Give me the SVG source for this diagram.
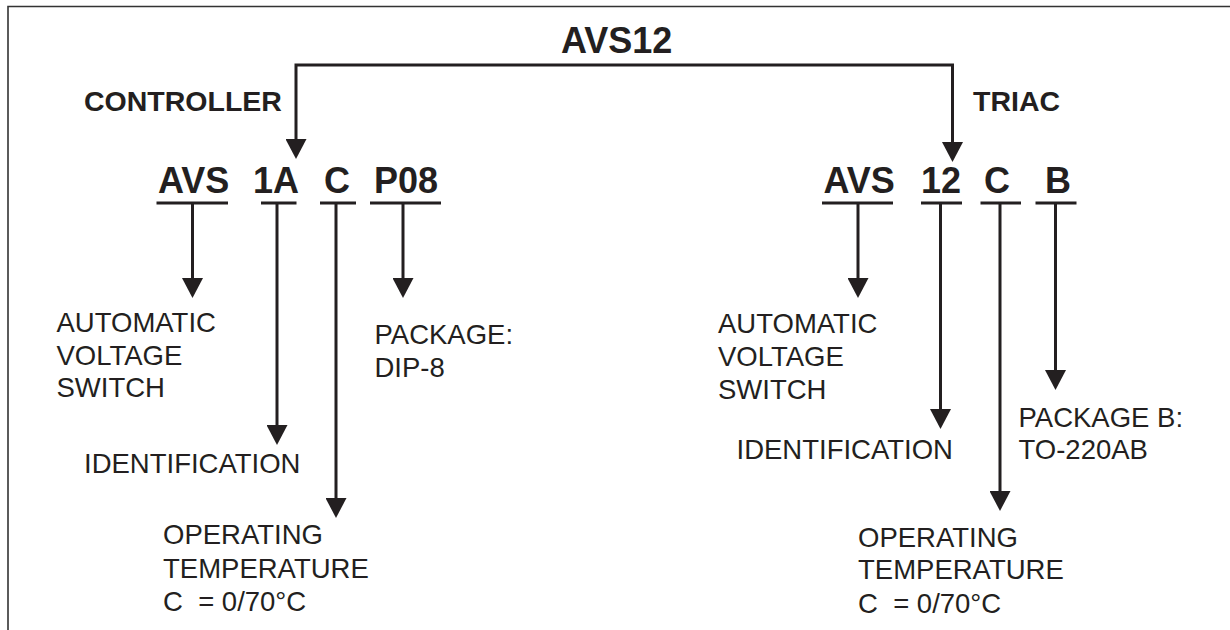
<svg xmlns="http://www.w3.org/2000/svg" width="1230" height="630" viewBox="0 0 1230 630">
<style>
text{font-family:"Liberation Sans",Arial,sans-serif;fill:#231f20;white-space:pre}
.title{font-weight:bold;font-size:36px}
.sub{font-weight:bold;font-size:28.5px}
.code{font-weight:bold;font-size:36px}
.lbl{font-size:27.5px}
.ul{stroke:#231f20;stroke-width:3.2}
.arr{stroke:#231f20;stroke-width:3;fill:none;marker-end:url(#ah)}
</style>
<defs>
<marker id="ah" markerUnits="userSpaceOnUse" markerWidth="20" markerHeight="21" refX="0" refY="10.5" orient="auto-start-reverse" viewBox="0 0 20 21">
<path d="M0,0 L20,10.5 L0,21 z" fill="#231f20"/>
</marker>
</defs>
<rect width="1230" height="630" fill="#fff"/>
<path d="M8,630 V6.5 H1230" stroke="#333" stroke-width="1.6" fill="none"/>

<g id="title"><text class="title" x="561" y="53">AVS12</text></g>
<g id="controller-label"><text class="sub" x="84" y="111">CONTROLLER</text></g>
<g id="triac-label"><text class="sub" x="973" y="111">TRIAC</text></g>

<g id="ctrl-avs"><text class="code" x="158" y="193">AVS</text><line class="ul" x1="156.5" y1="203" x2="228" y2="203"/></g>
<g id="ctrl-1a"><text class="code" x="253" y="193">1A</text><line class="ul" x1="261" y1="203" x2="296.5" y2="203"/></g>
<g id="ctrl-c"><text class="code" x="324" y="193">C</text><line class="ul" x1="320" y1="203" x2="356" y2="203"/></g>
<g id="ctrl-p08"><text class="code" x="374" y="193">P08</text><line class="ul" x1="370" y1="203" x2="441" y2="203"/></g>

<g id="triac-avs"><text class="code" x="823.5" y="193">AVS</text><line class="ul" x1="822" y1="203" x2="893" y2="203"/></g>
<g id="triac-12"><text class="code" x="921" y="193">12</text><line class="ul" x1="921" y1="203" x2="962" y2="203"/></g>
<g id="triac-c"><text class="code" x="984" y="193">C</text><line class="ul" x1="980.5" y1="203" x2="1021" y2="203"/></g>
<g id="triac-b"><text class="code" x="1045" y="193">B</text><line class="ul" x1="1035.5" y1="203" x2="1076.5" y2="203"/></g>

<g id="ctrl-avs-desc"><text class="lbl" x="56.5" y="332">AUTOMATIC</text><text class="lbl" x="56.5" y="365">VOLTAGE</text><text class="lbl" x="56.5" y="397">SWITCH</text></g>
<g id="ctrl-pkg-desc"><text class="lbl" x="374.5" y="344">PACKAGE:</text><text class="lbl" x="374.5" y="377">DIP-8</text></g>
<g id="ctrl-id-desc"><text class="lbl" x="84" y="473">IDENTIFICATION</text></g>
<g id="ctrl-temp-desc"><text class="lbl" x="163" y="544">OPERATING</text><text class="lbl" x="163" y="578">TEMPERATURE</text><text class="lbl" x="163" y="611">C  = 0/70°C</text></g>

<g id="triac-avs-desc"><text class="lbl" x="718" y="333">AUTOMATIC</text><text class="lbl" x="718" y="366">VOLTAGE</text><text class="lbl" x="718" y="399">SWITCH</text></g>
<g id="triac-id-desc"><text class="lbl" x="736.5" y="459">IDENTIFICATION</text></g>
<g id="triac-pkg-desc"><text class="lbl" x="1018.5" y="427">PACKAGE B:</text><text class="lbl" x="1018.5" y="459">TO-220AB</text></g>
<g id="triac-temp-desc"><text class="lbl" x="858" y="547">OPERATING</text><text class="lbl" x="858" y="579">TEMPERATURE</text><text class="lbl" x="858" y="613">C  = 0/70°C</text></g>

<g id="connectors">
<path class="arr" style="marker-start:url(#ah)" d="M296,139 V65 H952.5 V142"/>
<path class="arr" d="M192.5,203 V278"/>
<path class="arr" d="M277,203 V425"/>
<path class="arr" d="M336,203 V498"/>
<path class="arr" d="M403,203 V278"/>
<path class="arr" d="M858,203 V278"/>
<path class="arr" d="M940.5,203 V409"/>
<path class="arr" d="M1000,203 V491"/>
<path class="arr" d="M1055.5,203 V370"/>
</g>
</svg>
